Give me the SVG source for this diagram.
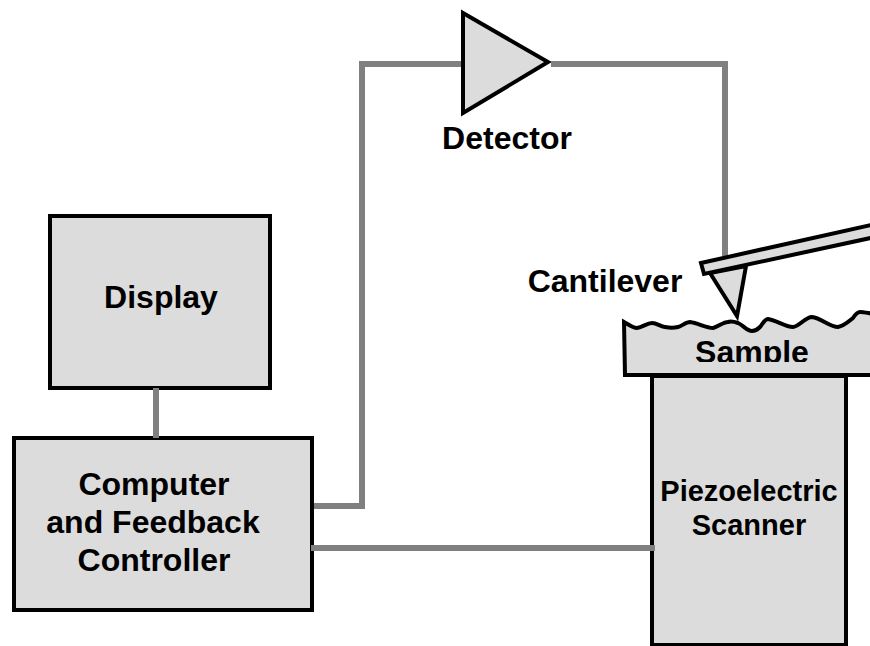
<svg xmlns="http://www.w3.org/2000/svg" width="870" height="646" viewBox="0 0 870 646">
<style>
.n{fill:#dcdcdc;stroke:#000;stroke-width:4}
.c{fill:none;stroke:#808080;stroke-width:6}
text{font-family:"Liberation Sans",Arial,sans-serif;font-weight:bold;fill:#000;text-anchor:middle}
</style>
<defs><clipPath id="sc"><rect x="640" y="330" width="200" height="32"/></clipPath></defs>
<rect width="870" height="646" fill="#fff"/>
<g id="display"><rect class="n" x="50" y="216" width="220" height="172"/><text x="161" y="308" font-size="32">Display</text></g>
<g id="controller"><rect class="n" x="14" y="438" width="298" height="172"/>
<text x="154" y="495" font-size="32">Computer</text><text x="153" y="533" font-size="32">and Feedback</text><text x="154" y="570.500" font-size="32">Controller</text></g>
<g id="detector"><polygon class="n" points="463,13 548,62 463,113"/><text x="507" y="149" font-size="32">Detector</text></g>
<g id="scanner"><rect class="n" x="652" y="376" width="194" height="269"/><text x="749" y="501" font-size="29">Piezoelectric</text><text x="749" y="535" font-size="29">Scanner</text></g>
<g id="sample"><path class="n" d="M624 322C629 325 633 328 637 328C643 327 647 323 652 323C657 323 661 327 665 327C670 328 674 328 678 327C682 326 686 322 690 322C698 323 706 328 713 328C718 327 723 322 728 322C731 321 735 322 738 323C743 325 747 331 752 331C756 331 758 329 760 327C763 323 765 319 768 319C776 320 785 327 793 327C799 327 805 317 812 317C821 318 830 327 838 327C844 326 848 322 853 318C855 315 857 312 860 312C864 312 867 313 880 315V375H625Z"/>
<text x="752" y="363" font-size="32" clip-path="url(#sc)">Sample</text></g>
<g id="connectors">
<path class="c" d="M156 388V438"/>
<path class="c" d="M314 506H362V64H461"/>
<path class="c" d="M551 64H725V256"/>
<path class="c" d="M311 548H655"/>
</g>
<g id="cantilever">
<polygon class="n" points="710,273 746,266 737,316"/>
<polygon class="n" points="701,263 880,223 880,236 704,274"/>
<text x="605" y="292" font-size="32">Cantilever</text></g>
</svg>
